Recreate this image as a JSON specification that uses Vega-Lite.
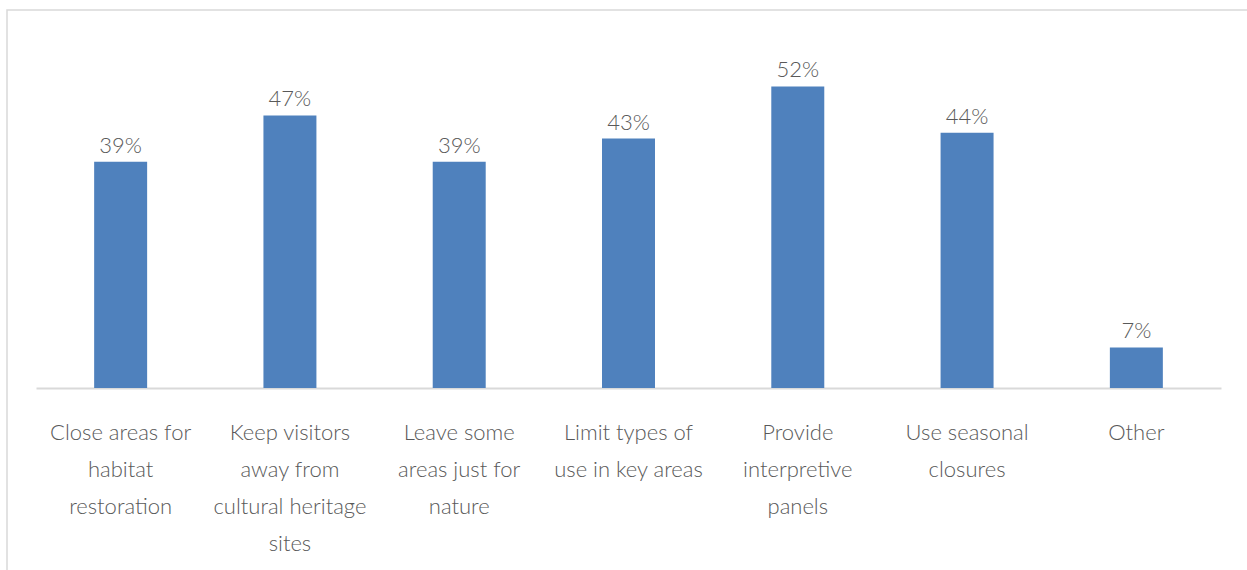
{
  "$schema": "https://vega.github.io/schema/vega-lite/v6.json",
  "width": 1243,
  "height": 565,
  "autosize": "none",
  "padding": {"left": 7, "top": 10, "right": 0, "bottom": 0},
  "background": "white",
  "config": {
    "view": {"stroke": "#d9d9d9", "strokeWidth": 1.5},
    "font": "Lato"
  },
  "data": {
    "values": [
      {"measure": "Close areas for|habitat|restoration", "share": 0.39},
      {"measure": "Keep visitors|away from|cultural heritage|sites", "share": 0.47},
      {"measure": "Leave some|areas just for|nature", "share": 0.39},
      {"measure": "Limit types of|use in key areas", "share": 0.43},
      {"measure": "Provide|interpretive|panels", "share": 0.52},
      {"measure": "Use seasonal|closures", "share": 0.44},
      {"measure": "Other", "share": 0.07}
    ]
  },
  "encoding": {
    "x": {
      "field": "measure",
      "type": "nominal",
      "sort": null,
      "scale": {"range": [29, 1214], "paddingInner": 0.687, "paddingOuter": 0.3435},
      "axis": {
        "title": null,
        "offset": -187,
        "labelAngle": 0,
        "labelExpr": "split(datum.label, '|')",
        "labelFontSize": 22,
        "labelFontWeight": 300,
        "labelColor": "#595959",
        "labelLineHeight": 37,
        "labelPadding": 34,
        "labelBaseline": "top",
        "labelLimit": 300,
        "ticks": false,
        "domainColor": "#d9d9d9",
        "domainWidth": 2
      }
    },
    "y": {
      "field": "share",
      "type": "quantitative",
      "scale": {"domain": [0, 0.6], "range": [378, 30]},
      "axis": null
    }
  },
  "layer": [
    {
      "mark": {"type": "bar", "color": "#4f81bd"}
    },
    {
      "mark": {
        "type": "text",
        "baseline": "bottom",
        "dy": -4,
        "fontSize": 22,
        "fontWeight": 300,
        "color": "#595959"
      },
      "encoding": {
        "text": {"field": "share", "type": "quantitative", "format": ".0%"}
      }
    }
  ]
}
